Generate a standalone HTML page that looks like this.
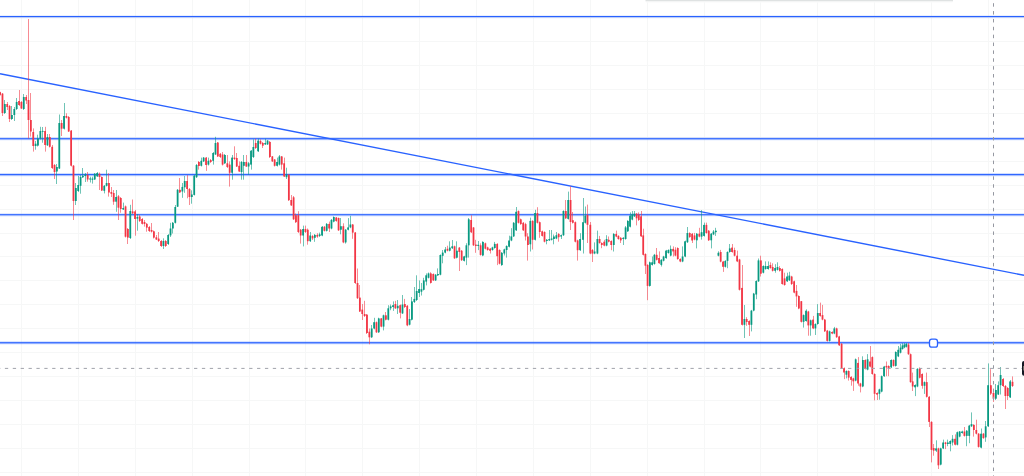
<!DOCTYPE html>
<html><head><meta charset="utf-8"><title>Chart</title>
<style>html,body{margin:0;padding:0;background:#ffffff;overflow:hidden;width:1024px;height:476px;font-family:"Liberation Sans",sans-serif;}svg{display:block;}</style>
</head><body>
<svg width="1024" height="476" viewBox="0 0 1024 476"><rect width="1024" height="476" fill="#fff"/><g fill="#f6f7f7"><rect x="21" y="0" width="1" height="476"/><rect x="78" y="0" width="1" height="476"/><rect x="135" y="0" width="1" height="476"/><rect x="192" y="0" width="1" height="476"/><rect x="249" y="0" width="1" height="476"/><rect x="305" y="0" width="1" height="476"/><rect x="362" y="0" width="1" height="476"/><rect x="419" y="0" width="1" height="476"/><rect x="476" y="0" width="1" height="476"/><rect x="533" y="0" width="1" height="476"/><rect x="590" y="0" width="1" height="476"/><rect x="647" y="0" width="1" height="476"/><rect x="704" y="0" width="1" height="476"/><rect x="760" y="0" width="1" height="476"/><rect x="817" y="0" width="1" height="476"/><rect x="874" y="0" width="1" height="476"/><rect x="931" y="0" width="1" height="476"/><rect x="988" y="0" width="1" height="476"/><rect x="0" y="17" width="1024" height="1"/><rect x="0" y="41" width="1024" height="1"/><rect x="0" y="65" width="1024" height="1"/><rect x="0" y="89" width="1024" height="1"/><rect x="0" y="113" width="1024" height="1"/><rect x="0" y="137" width="1024" height="1"/><rect x="0" y="161" width="1024" height="1"/><rect x="0" y="185" width="1024" height="1"/><rect x="0" y="209" width="1024" height="1"/><rect x="0" y="233" width="1024" height="1"/><rect x="0" y="256" width="1024" height="1"/><rect x="0" y="280" width="1024" height="1"/><rect x="0" y="304" width="1024" height="1"/><rect x="0" y="328" width="1024" height="1"/><rect x="0" y="352" width="1024" height="1"/><rect x="0" y="376" width="1024" height="1"/><rect x="0" y="400" width="1024" height="1"/><rect x="0" y="424" width="1024" height="1"/><rect x="0" y="448" width="1024" height="1"/><rect x="0" y="472" width="1024" height="1"/></g>
<rect x="645.5" y="0" width="307.5" height="1" fill="#dfe2e2"/>
<rect x="645.5" y="1" width="307.5" height="1" fill="#f4f5f5"/>
<rect x="646" y="2" width="306.5" height="0.6" fill="#fafafa"/>
<g fill="#2962ff"><rect x="0" y="15" width="1024" height="1" fill-opacity="0.1"/><rect x="0" y="16" width="1024" height="1" fill-opacity="1.0"/><rect x="0" y="17" width="1024" height="1" fill-opacity="0.28"/><rect x="0" y="18" width="1024" height="1" fill-opacity="0.04"/><rect x="0" y="137" width="1024" height="1" fill-opacity="0.16"/><rect x="0" y="138" width="1024" height="1" fill-opacity="0.88"/><rect x="0" y="139" width="1024" height="1" fill-opacity="0.48"/><rect x="0" y="140" width="1024" height="1" fill-opacity="0.06"/><rect x="0" y="173" width="1024" height="1" fill-opacity="0.22"/><rect x="0" y="174" width="1024" height="1" fill-opacity="0.97"/><rect x="0" y="175" width="1024" height="1" fill-opacity="0.4"/><rect x="0" y="176" width="1024" height="1" fill-opacity="0.06"/><rect x="0" y="213" width="1024" height="1" fill-opacity="0.14"/><rect x="0" y="214" width="1024" height="1" fill-opacity="0.88"/><rect x="0" y="215" width="1024" height="1" fill-opacity="0.45"/><rect x="0" y="216" width="1024" height="1" fill-opacity="0.07"/><rect x="0" y="341" width="1024" height="1" fill-opacity="0.18"/><rect x="0" y="342" width="1024" height="1" fill-opacity="0.88"/><rect x="0" y="343" width="1024" height="1" fill-opacity="0.52"/><rect x="0" y="344" width="1024" height="1" fill-opacity="0.08"/></g>
<line x1="0" y1="73.7" x2="1024" y2="275.3" stroke="#2962ff" stroke-width="1.4"/>
<rect x="0.21" y="91.80" width="0.58" height="3.70" fill="#f23645"/>
<rect x="-0.80" y="92.30" width="1.8" height="2.50" fill="#f23645"/>
<rect x="2.21" y="93.00" width="0.58" height="23.00" fill="#f23645"/>
<rect x="1.57" y="93.60" width="1.8" height="19.40" fill="#f23645"/>
<rect x="4.21" y="100.00" width="0.58" height="14.00" fill="#089981"/>
<rect x="3.93" y="104.00" width="1.8" height="9.00" fill="#089981"/>
<rect x="7.21" y="102.00" width="0.58" height="8.00" fill="#f23645"/>
<rect x="6.30" y="104.00" width="1.8" height="3.00" fill="#f23645"/>
<rect x="9.21" y="105.00" width="0.58" height="17.00" fill="#f23645"/>
<rect x="8.67" y="106.00" width="1.8" height="13.00" fill="#f23645"/>
<rect x="11.21" y="106.00" width="0.58" height="14.00" fill="#089981"/>
<rect x="11.04" y="115.00" width="1.8" height="4.00" fill="#089981"/>
<rect x="14.21" y="107.00" width="0.58" height="14.00" fill="#089981"/>
<rect x="13.40" y="109.00" width="1.8" height="6.00" fill="#089981"/>
<rect x="16.21" y="98.00" width="0.58" height="12.00" fill="#089981"/>
<rect x="15.77" y="102.00" width="1.8" height="7.00" fill="#089981"/>
<rect x="19.21" y="90.00" width="0.58" height="16.00" fill="#f23645"/>
<rect x="18.14" y="101.00" width="1.8" height="4.00" fill="#f23645"/>
<rect x="21.21" y="101.00" width="0.58" height="8.00" fill="#f23645"/>
<rect x="20.50" y="102.00" width="1.8" height="6.50" fill="#f23645"/>
<rect x="23.21" y="94.00" width="0.58" height="16.00" fill="#089981"/>
<rect x="22.87" y="97.00" width="1.8" height="12.00" fill="#089981"/>
<rect x="26.21" y="95.00" width="0.58" height="9.00" fill="#f23645"/>
<rect x="25.24" y="97.00" width="1.8" height="3.50" fill="#f23645"/>
<rect x="28.21" y="19.00" width="0.58" height="119.50" fill="#f23645"/>
<rect x="27.60" y="100.00" width="1.8" height="20.00" fill="#f23645"/>
<rect x="30.21" y="93.00" width="0.58" height="43.60" fill="#f23645"/>
<rect x="29.97" y="120.00" width="1.8" height="11.50" fill="#f23645"/>
<rect x="33.21" y="128.40" width="0.58" height="23.20" fill="#f23645"/>
<rect x="32.34" y="132.00" width="1.8" height="14.00" fill="#f23645"/>
<rect x="35.21" y="141.00" width="0.58" height="8.70" fill="#089981"/>
<rect x="34.71" y="143.70" width="1.8" height="2.30" fill="#089981"/>
<rect x="37.21" y="134.70" width="0.58" height="11.80" fill="#089981"/>
<rect x="37.07" y="138.50" width="1.8" height="7.10" fill="#089981"/>
<rect x="40.21" y="126.80" width="0.58" height="12.70" fill="#089981"/>
<rect x="39.44" y="131.00" width="1.8" height="7.50" fill="#089981"/>
<rect x="42.21" y="127.00" width="0.58" height="15.70" fill="#089981"/>
<rect x="41.81" y="130.90" width="1.8" height="0.90" fill="#089981"/>
<rect x="45.21" y="126.80" width="0.58" height="24.80" fill="#f23645"/>
<rect x="44.17" y="131.00" width="1.8" height="14.00" fill="#f23645"/>
<rect x="47.21" y="134.00" width="0.58" height="12.00" fill="#089981"/>
<rect x="46.54" y="137.00" width="1.8" height="8.30" fill="#089981"/>
<rect x="49.21" y="134.00" width="0.58" height="13.50" fill="#f23645"/>
<rect x="48.91" y="137.00" width="1.8" height="9.80" fill="#f23645"/>
<rect x="52.21" y="145.00" width="0.58" height="24.00" fill="#f23645"/>
<rect x="51.27" y="146.80" width="1.8" height="21.20" fill="#f23645"/>
<rect x="54.21" y="164.00" width="0.58" height="15.00" fill="#f23645"/>
<rect x="53.64" y="165.00" width="1.8" height="7.00" fill="#f23645"/>
<rect x="56.21" y="164.00" width="0.58" height="20.00" fill="#089981"/>
<rect x="56.01" y="167.00" width="1.8" height="4.50" fill="#089981"/>
<rect x="59.21" y="114.50" width="0.58" height="54.50" fill="#089981"/>
<rect x="58.38" y="123.00" width="1.8" height="45.50" fill="#089981"/>
<rect x="61.21" y="120.00" width="0.58" height="16.00" fill="#f23645"/>
<rect x="60.74" y="123.00" width="1.8" height="5.70" fill="#f23645"/>
<rect x="64.21" y="103.00" width="0.58" height="26.50" fill="#089981"/>
<rect x="63.11" y="116.00" width="1.8" height="12.70" fill="#089981"/>
<rect x="66.21" y="113.30" width="0.58" height="5.20" fill="#f23645"/>
<rect x="65.48" y="116.00" width="1.8" height="1.70" fill="#f23645"/>
<rect x="68.21" y="116.00" width="0.58" height="16.00" fill="#f23645"/>
<rect x="67.84" y="117.00" width="1.8" height="14.50" fill="#f23645"/>
<rect x="71.21" y="130.00" width="0.58" height="36.50" fill="#f23645"/>
<rect x="70.21" y="130.60" width="1.8" height="35.10" fill="#f23645"/>
<rect x="73.21" y="165.00" width="0.58" height="55.00" fill="#f23645"/>
<rect x="72.58" y="165.70" width="1.8" height="35.30" fill="#f23645"/>
<rect x="75.21" y="183.00" width="0.58" height="22.00" fill="#089981"/>
<rect x="74.94" y="188.00" width="1.8" height="13.00" fill="#089981"/>
<rect x="78.21" y="176.00" width="0.58" height="16.00" fill="#089981"/>
<rect x="77.31" y="185.00" width="1.8" height="6.00" fill="#089981"/>
<rect x="80.21" y="175.00" width="0.58" height="18.70" fill="#089981"/>
<rect x="79.68" y="177.00" width="1.8" height="8.80" fill="#089981"/>
<rect x="82.21" y="168.00" width="0.58" height="10.00" fill="#089981"/>
<rect x="82.04" y="175.70" width="1.8" height="1.60" fill="#089981"/>
<rect x="85.21" y="173.00" width="0.58" height="9.00" fill="#089981"/>
<rect x="84.41" y="174.50" width="1.8" height="1.50" fill="#089981"/>
<rect x="87.21" y="172.00" width="0.58" height="9.70" fill="#f23645"/>
<rect x="86.78" y="175.00" width="1.8" height="4.50" fill="#f23645"/>
<rect x="90.21" y="176.70" width="0.58" height="5.80" fill="#089981"/>
<rect x="89.15" y="178.50" width="1.8" height="1.00" fill="#089981"/>
<rect x="92.21" y="176.70" width="0.58" height="6.90" fill="#089981"/>
<rect x="91.51" y="178.50" width="1.8" height="1.30" fill="#089981"/>
<rect x="94.21" y="173.00" width="0.58" height="7.00" fill="#089981"/>
<rect x="93.88" y="173.80" width="1.8" height="5.70" fill="#089981"/>
<rect x="97.21" y="172.00" width="0.58" height="5.00" fill="#089981"/>
<rect x="96.25" y="173.00" width="1.8" height="3.30" fill="#089981"/>
<rect x="99.21" y="172.50" width="0.58" height="17.50" fill="#f23645"/>
<rect x="98.61" y="173.80" width="1.8" height="3.20" fill="#f23645"/>
<rect x="101.21" y="176.50" width="0.58" height="14.50" fill="#f23645"/>
<rect x="100.98" y="177.00" width="1.8" height="13.50" fill="#f23645"/>
<rect x="104.21" y="185.00" width="0.58" height="8.40" fill="#089981"/>
<rect x="103.35" y="185.80" width="1.8" height="5.00" fill="#089981"/>
<rect x="106.21" y="169.70" width="0.58" height="16.80" fill="#089981"/>
<rect x="105.71" y="183.00" width="1.8" height="2.80" fill="#089981"/>
<rect x="108.21" y="173.20" width="0.58" height="23.40" fill="#f23645"/>
<rect x="108.08" y="183.00" width="1.8" height="9.50" fill="#f23645"/>
<rect x="111.21" y="187.00" width="0.58" height="10.00" fill="#f23645"/>
<rect x="110.45" y="192.00" width="1.8" height="1.80" fill="#f23645"/>
<rect x="113.21" y="190.00" width="0.58" height="14.80" fill="#f23645"/>
<rect x="112.82" y="193.00" width="1.8" height="8.70" fill="#f23645"/>
<rect x="116.21" y="190.00" width="0.58" height="21.80" fill="#089981"/>
<rect x="115.18" y="197.00" width="1.8" height="4.70" fill="#089981"/>
<rect x="118.21" y="195.00" width="0.58" height="25.00" fill="#f23645"/>
<rect x="117.55" y="196.30" width="1.8" height="11.40" fill="#f23645"/>
<rect x="120.21" y="197.00" width="0.58" height="15.70" fill="#f23645"/>
<rect x="119.92" y="198.00" width="1.8" height="11.00" fill="#f23645"/>
<rect x="123.21" y="202.60" width="0.58" height="7.40" fill="#089981"/>
<rect x="122.28" y="208.00" width="1.8" height="1.50" fill="#089981"/>
<rect x="125.21" y="205.50" width="0.58" height="32.00" fill="#f23645"/>
<rect x="124.65" y="206.40" width="1.8" height="30.30" fill="#f23645"/>
<rect x="127.21" y="228.00" width="0.58" height="16.00" fill="#f23645"/>
<rect x="127.02" y="229.00" width="1.8" height="8.60" fill="#f23645"/>
<rect x="130.21" y="204.80" width="0.58" height="34.20" fill="#089981"/>
<rect x="129.38" y="211.00" width="1.8" height="27.00" fill="#089981"/>
<rect x="132.21" y="199.50" width="0.58" height="14.50" fill="#f23645"/>
<rect x="131.75" y="211.40" width="1.8" height="1.90" fill="#f23645"/>
<rect x="135.21" y="209.90" width="0.58" height="25.80" fill="#f23645"/>
<rect x="134.12" y="211.40" width="1.8" height="7.60" fill="#f23645"/>
<rect x="137.21" y="214.00" width="0.58" height="16.70" fill="#089981"/>
<rect x="136.49" y="217.00" width="1.8" height="1.70" fill="#089981"/>
<rect x="139.21" y="215.00" width="0.58" height="7.00" fill="#f23645"/>
<rect x="138.85" y="216.50" width="1.8" height="4.50" fill="#f23645"/>
<rect x="142.21" y="218.00" width="0.58" height="6.50" fill="#f23645"/>
<rect x="141.22" y="219.00" width="1.8" height="4.80" fill="#f23645"/>
<rect x="144.21" y="220.00" width="0.58" height="6.60" fill="#f23645"/>
<rect x="143.59" y="222.00" width="1.8" height="2.00" fill="#f23645"/>
<rect x="146.21" y="223.00" width="0.58" height="8.70" fill="#f23645"/>
<rect x="145.95" y="223.80" width="1.8" height="3.80" fill="#f23645"/>
<rect x="149.21" y="226.00" width="0.58" height="6.00" fill="#f23645"/>
<rect x="148.32" y="227.00" width="1.8" height="4.00" fill="#f23645"/>
<rect x="151.21" y="223.00" width="0.58" height="9.50" fill="#f23645"/>
<rect x="150.69" y="230.00" width="1.8" height="1.70" fill="#f23645"/>
<rect x="153.21" y="230.50" width="0.58" height="8.00" fill="#f23645"/>
<rect x="153.05" y="231.30" width="1.8" height="6.30" fill="#f23645"/>
<rect x="156.21" y="235.00" width="0.58" height="5.00" fill="#f23645"/>
<rect x="155.42" y="237.30" width="1.8" height="2.20" fill="#f23645"/>
<rect x="158.21" y="232.00" width="0.58" height="10.00" fill="#f23645"/>
<rect x="157.79" y="238.60" width="1.8" height="2.40" fill="#f23645"/>
<rect x="161.21" y="240.00" width="0.58" height="7.00" fill="#f23645"/>
<rect x="160.16" y="241.00" width="1.8" height="5.00" fill="#f23645"/>
<rect x="163.21" y="238.30" width="0.58" height="10.70" fill="#089981"/>
<rect x="162.52" y="241.00" width="1.8" height="5.00" fill="#089981"/>
<rect x="165.21" y="240.00" width="0.58" height="7.00" fill="#f23645"/>
<rect x="164.89" y="241.00" width="1.8" height="5.00" fill="#f23645"/>
<rect x="168.21" y="234.00" width="0.58" height="11.00" fill="#089981"/>
<rect x="167.26" y="235.00" width="1.8" height="9.00" fill="#089981"/>
<rect x="170.21" y="222.80" width="0.58" height="14.20" fill="#089981"/>
<rect x="169.62" y="228.50" width="1.8" height="6.90" fill="#089981"/>
<rect x="172.21" y="222.00" width="0.58" height="11.50" fill="#089981"/>
<rect x="171.99" y="222.80" width="1.8" height="5.70" fill="#089981"/>
<rect x="175.21" y="205.00" width="0.58" height="18.50" fill="#089981"/>
<rect x="174.36" y="207.00" width="1.8" height="15.80" fill="#089981"/>
<rect x="177.21" y="189.00" width="0.58" height="18.00" fill="#089981"/>
<rect x="176.72" y="189.80" width="1.8" height="16.90" fill="#089981"/>
<rect x="179.21" y="178.00" width="0.58" height="15.00" fill="#f23645"/>
<rect x="179.09" y="189.80" width="1.8" height="2.60" fill="#f23645"/>
<rect x="182.21" y="183.00" width="0.58" height="14.80" fill="#089981"/>
<rect x="181.46" y="186.90" width="1.8" height="4.60" fill="#089981"/>
<rect x="184.21" y="176.00" width="0.58" height="16.80" fill="#089981"/>
<rect x="183.83" y="181.00" width="1.8" height="6.30" fill="#089981"/>
<rect x="187.21" y="175.10" width="0.58" height="23.20" fill="#f23645"/>
<rect x="186.19" y="181.00" width="1.8" height="8.00" fill="#f23645"/>
<rect x="189.21" y="188.00" width="0.58" height="17.00" fill="#f23645"/>
<rect x="188.56" y="189.00" width="1.8" height="8.00" fill="#f23645"/>
<rect x="191.21" y="190.30" width="0.58" height="13.40" fill="#089981"/>
<rect x="190.93" y="194.50" width="1.8" height="2.50" fill="#089981"/>
<rect x="194.21" y="175.00" width="0.58" height="20.50" fill="#089981"/>
<rect x="193.29" y="175.60" width="1.8" height="19.30" fill="#089981"/>
<rect x="196.21" y="164.00" width="0.58" height="14.00" fill="#089981"/>
<rect x="195.66" y="165.00" width="1.8" height="12.20" fill="#089981"/>
<rect x="198.21" y="161.00" width="0.58" height="8.60" fill="#f23645"/>
<rect x="198.03" y="162.00" width="1.8" height="4.00" fill="#f23645"/>
<rect x="201.21" y="157.60" width="0.58" height="8.90" fill="#089981"/>
<rect x="200.39" y="160.80" width="1.8" height="5.00" fill="#089981"/>
<rect x="203.21" y="157.00" width="0.58" height="5.00" fill="#089981"/>
<rect x="202.76" y="157.60" width="1.8" height="3.80" fill="#089981"/>
<rect x="206.21" y="157.00" width="0.58" height="13.90" fill="#f23645"/>
<rect x="205.13" y="157.60" width="1.8" height="7.40" fill="#f23645"/>
<rect x="208.21" y="157.60" width="0.58" height="7.90" fill="#089981"/>
<rect x="207.50" y="160.80" width="1.8" height="3.80" fill="#089981"/>
<rect x="210.21" y="159.00" width="0.58" height="4.00" fill="#f23645"/>
<rect x="209.86" y="160.00" width="1.8" height="2.00" fill="#f23645"/>
<rect x="213.21" y="152.00" width="0.58" height="12.60" fill="#089981"/>
<rect x="212.23" y="153.00" width="1.8" height="7.80" fill="#089981"/>
<rect x="215.21" y="136.80" width="0.58" height="18.20" fill="#089981"/>
<rect x="214.60" y="143.00" width="1.8" height="11.50" fill="#089981"/>
<rect x="217.21" y="142.00" width="0.58" height="15.00" fill="#f23645"/>
<rect x="216.96" y="142.50" width="1.8" height="13.90" fill="#f23645"/>
<rect x="220.21" y="153.00" width="0.58" height="5.00" fill="#f23645"/>
<rect x="219.33" y="153.80" width="1.8" height="3.20" fill="#f23645"/>
<rect x="222.21" y="152.00" width="0.58" height="13.50" fill="#f23645"/>
<rect x="221.70" y="154.50" width="1.8" height="10.10" fill="#f23645"/>
<rect x="224.21" y="154.00" width="0.58" height="10.00" fill="#089981"/>
<rect x="224.06" y="155.00" width="1.8" height="8.30" fill="#089981"/>
<rect x="227.21" y="155.00" width="0.58" height="13.00" fill="#f23645"/>
<rect x="226.43" y="163.30" width="1.8" height="3.70" fill="#f23645"/>
<rect x="229.21" y="161.40" width="0.58" height="25.20" fill="#f23645"/>
<rect x="228.80" y="164.60" width="1.8" height="8.20" fill="#f23645"/>
<rect x="232.21" y="155.00" width="0.58" height="24.70" fill="#089981"/>
<rect x="231.17" y="157.60" width="1.8" height="15.20" fill="#089981"/>
<rect x="234.21" y="146.30" width="0.58" height="13.70" fill="#f23645"/>
<rect x="233.53" y="157.60" width="1.8" height="1.40" fill="#f23645"/>
<rect x="236.21" y="153.00" width="0.58" height="14.00" fill="#f23645"/>
<rect x="235.90" y="158.00" width="1.8" height="8.50" fill="#f23645"/>
<rect x="239.21" y="161.40" width="0.58" height="10.60" fill="#f23645"/>
<rect x="238.27" y="165.80" width="1.8" height="5.70" fill="#f23645"/>
<rect x="241.21" y="161.00" width="0.58" height="18.70" fill="#089981"/>
<rect x="240.63" y="162.00" width="1.8" height="10.00" fill="#089981"/>
<rect x="243.21" y="155.00" width="0.58" height="24.70" fill="#089981"/>
<rect x="243.00" y="162.00" width="1.8" height="3.80" fill="#089981"/>
<rect x="246.21" y="155.00" width="0.58" height="12.00" fill="#f23645"/>
<rect x="245.37" y="162.00" width="1.8" height="4.50" fill="#f23645"/>
<rect x="248.21" y="162.00" width="0.58" height="12.70" fill="#089981"/>
<rect x="247.73" y="163.30" width="1.8" height="3.20" fill="#089981"/>
<rect x="251.21" y="150.00" width="0.58" height="19.60" fill="#089981"/>
<rect x="250.10" y="150.70" width="1.8" height="13.90" fill="#089981"/>
<rect x="253.21" y="139.40" width="0.58" height="18.60" fill="#089981"/>
<rect x="252.47" y="147.00" width="1.8" height="10.00" fill="#089981"/>
<rect x="255.21" y="138.70" width="0.58" height="10.30" fill="#f23645"/>
<rect x="254.84" y="143.00" width="1.8" height="5.00" fill="#f23645"/>
<rect x="258.21" y="138.70" width="0.58" height="13.30" fill="#089981"/>
<rect x="257.20" y="140.60" width="1.8" height="10.70" fill="#089981"/>
<rect x="260.21" y="139.40" width="0.58" height="5.10" fill="#f23645"/>
<rect x="259.57" y="141.00" width="1.8" height="2.80" fill="#f23645"/>
<rect x="262.21" y="142.00" width="0.58" height="6.00" fill="#f23645"/>
<rect x="261.94" y="143.00" width="1.8" height="2.70" fill="#f23645"/>
<rect x="265.21" y="138.70" width="0.58" height="6.30" fill="#089981"/>
<rect x="264.30" y="143.00" width="1.8" height="1.40" fill="#089981"/>
<rect x="267.21" y="140.00" width="0.58" height="5.00" fill="#089981"/>
<rect x="266.67" y="140.60" width="1.8" height="3.80" fill="#089981"/>
<rect x="269.21" y="141.00" width="0.58" height="17.00" fill="#f23645"/>
<rect x="269.04" y="141.90" width="1.8" height="15.10" fill="#f23645"/>
<rect x="272.21" y="156.00" width="0.58" height="6.00" fill="#f23645"/>
<rect x="271.41" y="156.40" width="1.8" height="5.00" fill="#f23645"/>
<rect x="274.21" y="159.00" width="0.58" height="7.50" fill="#f23645"/>
<rect x="273.77" y="159.50" width="1.8" height="6.30" fill="#f23645"/>
<rect x="277.21" y="157.60" width="0.58" height="8.90" fill="#089981"/>
<rect x="276.14" y="162.00" width="1.8" height="3.80" fill="#089981"/>
<rect x="279.21" y="155.00" width="0.58" height="10.50" fill="#089981"/>
<rect x="278.51" y="156.40" width="1.8" height="8.20" fill="#089981"/>
<rect x="281.21" y="156.00" width="0.58" height="13.60" fill="#f23645"/>
<rect x="280.87" y="156.40" width="1.8" height="8.20" fill="#f23645"/>
<rect x="284.21" y="157.60" width="0.58" height="19.40" fill="#f23645"/>
<rect x="283.24" y="163.30" width="1.8" height="13.20" fill="#f23645"/>
<rect x="286.21" y="167.70" width="0.58" height="11.30" fill="#089981"/>
<rect x="285.61" y="174.70" width="1.8" height="2.50" fill="#089981"/>
<rect x="288.21" y="174.00" width="0.58" height="27.00" fill="#f23645"/>
<rect x="287.97" y="174.70" width="1.8" height="25.50" fill="#f23645"/>
<rect x="291.21" y="195.00" width="0.58" height="11.00" fill="#f23645"/>
<rect x="290.34" y="200.00" width="1.8" height="5.40" fill="#f23645"/>
<rect x="293.21" y="196.00" width="0.58" height="24.00" fill="#f23645"/>
<rect x="292.71" y="197.30" width="1.8" height="22.00" fill="#f23645"/>
<rect x="295.21" y="213.50" width="0.58" height="9.50" fill="#f23645"/>
<rect x="295.08" y="215.20" width="1.8" height="7.00" fill="#f23645"/>
<rect x="298.21" y="211.20" width="0.58" height="21.80" fill="#f23645"/>
<rect x="297.44" y="215.20" width="1.8" height="16.80" fill="#f23645"/>
<rect x="300.21" y="229.00" width="0.58" height="14.60" fill="#f23645"/>
<rect x="299.81" y="229.70" width="1.8" height="5.80" fill="#f23645"/>
<rect x="303.21" y="225.60" width="0.58" height="20.80" fill="#089981"/>
<rect x="302.18" y="229.00" width="1.8" height="6.50" fill="#089981"/>
<rect x="305.21" y="225.60" width="0.58" height="7.40" fill="#f23645"/>
<rect x="304.54" y="229.00" width="1.8" height="3.00" fill="#f23645"/>
<rect x="307.21" y="228.50" width="0.58" height="16.20" fill="#f23645"/>
<rect x="306.91" y="229.70" width="1.8" height="11.50" fill="#f23645"/>
<rect x="310.21" y="232.00" width="0.58" height="10.00" fill="#089981"/>
<rect x="309.28" y="235.50" width="1.8" height="5.70" fill="#089981"/>
<rect x="312.21" y="234.90" width="0.58" height="5.10" fill="#f23645"/>
<rect x="311.64" y="236.00" width="1.8" height="2.40" fill="#f23645"/>
<rect x="314.21" y="234.00" width="0.58" height="7.80" fill="#089981"/>
<rect x="314.01" y="234.90" width="1.8" height="2.90" fill="#089981"/>
<rect x="317.21" y="233.20" width="0.58" height="4.60" fill="#f23645"/>
<rect x="316.38" y="234.90" width="1.8" height="1.70" fill="#f23645"/>
<rect x="319.21" y="232.60" width="0.58" height="4.40" fill="#089981"/>
<rect x="318.75" y="234.30" width="1.8" height="1.70" fill="#089981"/>
<rect x="322.21" y="226.00" width="0.58" height="10.20" fill="#089981"/>
<rect x="321.11" y="226.80" width="1.8" height="8.70" fill="#089981"/>
<rect x="324.21" y="226.00" width="0.58" height="5.50" fill="#f23645"/>
<rect x="323.48" y="226.80" width="1.8" height="4.00" fill="#f23645"/>
<rect x="326.21" y="223.00" width="0.58" height="8.50" fill="#089981"/>
<rect x="325.85" y="223.90" width="1.8" height="6.90" fill="#089981"/>
<rect x="329.21" y="221.60" width="0.58" height="10.40" fill="#f23645"/>
<rect x="328.21" y="223.90" width="1.8" height="4.60" fill="#f23645"/>
<rect x="331.21" y="219.00" width="0.58" height="10.30" fill="#089981"/>
<rect x="330.58" y="219.90" width="1.8" height="8.60" fill="#089981"/>
<rect x="333.21" y="216.40" width="0.58" height="5.90" fill="#089981"/>
<rect x="332.95" y="217.00" width="1.8" height="4.60" fill="#089981"/>
<rect x="336.21" y="217.00" width="0.58" height="4.80" fill="#f23645"/>
<rect x="335.31" y="217.50" width="1.8" height="3.50" fill="#f23645"/>
<rect x="338.21" y="217.50" width="0.58" height="13.50" fill="#f23645"/>
<rect x="337.68" y="218.00" width="1.8" height="12.30" fill="#f23645"/>
<rect x="340.21" y="218.00" width="0.58" height="16.30" fill="#089981"/>
<rect x="340.05" y="226.20" width="1.8" height="3.50" fill="#089981"/>
<rect x="343.21" y="223.30" width="0.58" height="19.90" fill="#f23645"/>
<rect x="342.42" y="226.20" width="1.8" height="16.20" fill="#f23645"/>
<rect x="345.21" y="229.00" width="0.58" height="14.60" fill="#089981"/>
<rect x="344.78" y="229.70" width="1.8" height="12.70" fill="#089981"/>
<rect x="348.21" y="218.10" width="0.58" height="12.30" fill="#089981"/>
<rect x="347.15" y="227.40" width="1.8" height="2.30" fill="#089981"/>
<rect x="350.21" y="215.80" width="0.58" height="12.40" fill="#089981"/>
<rect x="349.52" y="224.50" width="1.8" height="2.90" fill="#089981"/>
<rect x="352.21" y="224.00" width="0.58" height="14.80" fill="#f23645"/>
<rect x="351.88" y="224.50" width="1.8" height="8.10" fill="#f23645"/>
<rect x="355.21" y="232.00" width="0.58" height="52.00" fill="#f23645"/>
<rect x="354.25" y="232.50" width="1.8" height="50.50" fill="#f23645"/>
<rect x="357.21" y="268.50" width="0.58" height="30.50" fill="#f23645"/>
<rect x="356.62" y="283.00" width="1.8" height="15.20" fill="#f23645"/>
<rect x="359.21" y="285.00" width="0.58" height="27.00" fill="#f23645"/>
<rect x="358.98" y="297.60" width="1.8" height="13.90" fill="#f23645"/>
<rect x="362.21" y="304.00" width="0.58" height="16.00" fill="#f23645"/>
<rect x="361.35" y="309.60" width="1.8" height="4.40" fill="#f23645"/>
<rect x="364.21" y="300.80" width="0.58" height="16.20" fill="#f23645"/>
<rect x="363.72" y="314.00" width="1.8" height="2.00" fill="#f23645"/>
<rect x="366.21" y="314.00" width="0.58" height="20.00" fill="#f23645"/>
<rect x="366.09" y="314.60" width="1.8" height="18.40" fill="#f23645"/>
<rect x="369.21" y="328.50" width="0.58" height="15.80" fill="#f23645"/>
<rect x="368.45" y="331.70" width="1.8" height="5.60" fill="#f23645"/>
<rect x="371.21" y="325.00" width="0.58" height="13.00" fill="#089981"/>
<rect x="370.82" y="328.50" width="1.8" height="8.80" fill="#089981"/>
<rect x="374.21" y="317.80" width="0.58" height="11.50" fill="#089981"/>
<rect x="373.19" y="322.20" width="1.8" height="6.30" fill="#089981"/>
<rect x="376.21" y="321.50" width="0.58" height="11.50" fill="#f23645"/>
<rect x="375.55" y="322.20" width="1.8" height="10.10" fill="#f23645"/>
<rect x="378.21" y="317.70" width="0.58" height="15.30" fill="#089981"/>
<rect x="377.92" y="318.40" width="1.8" height="13.90" fill="#089981"/>
<rect x="381.21" y="318.00" width="0.58" height="9.30" fill="#f23645"/>
<rect x="380.29" y="318.40" width="1.8" height="8.20" fill="#f23645"/>
<rect x="383.21" y="314.60" width="0.58" height="15.80" fill="#089981"/>
<rect x="382.65" y="315.30" width="1.8" height="11.30" fill="#089981"/>
<rect x="385.21" y="312.00" width="0.58" height="8.40" fill="#f23645"/>
<rect x="385.02" y="315.30" width="1.8" height="4.40" fill="#f23645"/>
<rect x="388.21" y="305.20" width="0.58" height="15.20" fill="#089981"/>
<rect x="387.39" y="308.30" width="1.8" height="11.40" fill="#089981"/>
<rect x="390.21" y="304.50" width="0.58" height="5.70" fill="#089981"/>
<rect x="389.76" y="306.40" width="1.8" height="1.90" fill="#089981"/>
<rect x="393.21" y="301.40" width="0.58" height="9.50" fill="#089981"/>
<rect x="392.12" y="305.20" width="1.8" height="1.80" fill="#089981"/>
<rect x="395.21" y="300.80" width="0.58" height="8.20" fill="#f23645"/>
<rect x="394.49" y="304.00" width="1.8" height="4.30" fill="#f23645"/>
<rect x="397.21" y="300.00" width="0.58" height="14.00" fill="#089981"/>
<rect x="396.86" y="305.80" width="1.8" height="2.50" fill="#089981"/>
<rect x="400.21" y="304.50" width="0.58" height="13.90" fill="#f23645"/>
<rect x="399.22" y="305.20" width="1.8" height="7.50" fill="#f23645"/>
<rect x="402.21" y="295.00" width="0.58" height="19.00" fill="#089981"/>
<rect x="401.59" y="304.50" width="1.8" height="8.90" fill="#089981"/>
<rect x="404.21" y="298.90" width="0.58" height="9.10" fill="#f23645"/>
<rect x="403.96" y="304.00" width="1.8" height="3.00" fill="#f23645"/>
<rect x="407.21" y="305.00" width="0.58" height="21.20" fill="#f23645"/>
<rect x="406.32" y="305.80" width="1.8" height="19.60" fill="#f23645"/>
<rect x="409.21" y="309.00" width="0.58" height="16.40" fill="#089981"/>
<rect x="408.69" y="319.00" width="1.8" height="5.70" fill="#089981"/>
<rect x="411.21" y="297.00" width="0.58" height="23.40" fill="#089981"/>
<rect x="411.06" y="301.40" width="1.8" height="18.30" fill="#089981"/>
<rect x="414.21" y="287.00" width="0.58" height="16.00" fill="#089981"/>
<rect x="413.43" y="298.90" width="1.8" height="3.10" fill="#089981"/>
<rect x="416.21" y="275.30" width="0.58" height="25.70" fill="#089981"/>
<rect x="415.79" y="291.00" width="1.8" height="9.00" fill="#089981"/>
<rect x="419.21" y="280.40" width="0.58" height="16.60" fill="#089981"/>
<rect x="418.16" y="289.00" width="1.8" height="4.00" fill="#089981"/>
<rect x="421.21" y="283.00" width="0.58" height="12.50" fill="#089981"/>
<rect x="420.53" y="289.20" width="1.8" height="2.50" fill="#089981"/>
<rect x="423.21" y="277.80" width="0.58" height="12.70" fill="#089981"/>
<rect x="422.89" y="280.40" width="1.8" height="9.40" fill="#089981"/>
<rect x="426.21" y="273.40" width="0.58" height="12.00" fill="#089981"/>
<rect x="425.26" y="275.30" width="1.8" height="6.30" fill="#089981"/>
<rect x="428.21" y="272.50" width="0.58" height="6.00" fill="#089981"/>
<rect x="427.63" y="273.40" width="1.8" height="4.40" fill="#089981"/>
<rect x="430.21" y="272.20" width="0.58" height="11.40" fill="#f23645"/>
<rect x="429.99" y="273.40" width="1.8" height="9.50" fill="#f23645"/>
<rect x="433.21" y="273.40" width="0.58" height="7.60" fill="#f23645"/>
<rect x="432.36" y="274.00" width="1.8" height="6.40" fill="#f23645"/>
<rect x="435.21" y="274.00" width="0.58" height="7.00" fill="#089981"/>
<rect x="434.73" y="274.70" width="1.8" height="5.70" fill="#089981"/>
<rect x="437.21" y="268.40" width="0.58" height="7.60" fill="#089981"/>
<rect x="437.10" y="274.00" width="1.8" height="1.30" fill="#089981"/>
<rect x="440.21" y="254.40" width="0.58" height="20.90" fill="#089981"/>
<rect x="439.46" y="255.00" width="1.8" height="19.70" fill="#089981"/>
<rect x="442.21" y="250.00" width="0.58" height="13.30" fill="#089981"/>
<rect x="441.83" y="252.60" width="1.8" height="3.20" fill="#089981"/>
<rect x="445.21" y="247.00" width="0.58" height="6.30" fill="#089981"/>
<rect x="444.20" y="249.50" width="1.8" height="3.10" fill="#089981"/>
<rect x="447.21" y="245.70" width="0.58" height="5.70" fill="#f23645"/>
<rect x="446.56" y="248.80" width="1.8" height="1.90" fill="#f23645"/>
<rect x="449.21" y="241.30" width="0.58" height="10.10" fill="#089981"/>
<rect x="448.93" y="247.60" width="1.8" height="3.10" fill="#089981"/>
<rect x="452.21" y="240.00" width="0.58" height="9.00" fill="#089981"/>
<rect x="451.30" y="246.30" width="1.8" height="1.90" fill="#089981"/>
<rect x="454.21" y="245.60" width="0.58" height="13.40" fill="#f23645"/>
<rect x="453.66" y="246.30" width="1.8" height="12.00" fill="#f23645"/>
<rect x="456.21" y="241.30" width="0.58" height="17.10" fill="#089981"/>
<rect x="456.03" y="250.70" width="1.8" height="7.00" fill="#089981"/>
<rect x="459.21" y="247.00" width="0.58" height="24.00" fill="#f23645"/>
<rect x="458.40" y="247.60" width="1.8" height="4.40" fill="#f23645"/>
<rect x="461.21" y="250.00" width="0.58" height="11.00" fill="#f23645"/>
<rect x="460.77" y="250.70" width="1.8" height="9.50" fill="#f23645"/>
<rect x="464.21" y="255.80" width="0.58" height="5.70" fill="#089981"/>
<rect x="463.13" y="256.40" width="1.8" height="4.40" fill="#089981"/>
<rect x="466.21" y="243.20" width="0.58" height="21.90" fill="#089981"/>
<rect x="465.50" y="245.30" width="1.8" height="12.30" fill="#089981"/>
<rect x="468.21" y="218.00" width="0.58" height="39.60" fill="#089981"/>
<rect x="467.87" y="219.30" width="1.8" height="26.00" fill="#089981"/>
<rect x="471.21" y="215.20" width="0.58" height="17.80" fill="#f23645"/>
<rect x="470.23" y="220.00" width="1.8" height="12.30" fill="#f23645"/>
<rect x="473.21" y="227.00" width="0.58" height="19.00" fill="#f23645"/>
<rect x="472.60" y="227.50" width="1.8" height="17.80" fill="#f23645"/>
<rect x="475.21" y="239.80" width="0.58" height="13.00" fill="#f23645"/>
<rect x="474.97" y="244.60" width="1.8" height="1.40" fill="#f23645"/>
<rect x="478.21" y="241.00" width="0.58" height="9.10" fill="#089981"/>
<rect x="477.33" y="244.80" width="1.8" height="1.20" fill="#089981"/>
<rect x="480.21" y="243.30" width="0.58" height="12.30" fill="#f23645"/>
<rect x="479.70" y="245.30" width="1.8" height="9.60" fill="#f23645"/>
<rect x="482.21" y="241.30" width="0.58" height="14.90" fill="#089981"/>
<rect x="482.07" y="241.90" width="1.8" height="13.60" fill="#089981"/>
<rect x="485.21" y="242.60" width="0.58" height="6.80" fill="#f23645"/>
<rect x="484.44" y="243.30" width="1.8" height="5.40" fill="#f23645"/>
<rect x="487.21" y="246.70" width="0.58" height="4.00" fill="#f23645"/>
<rect x="486.80" y="247.40" width="1.8" height="2.60" fill="#f23645"/>
<rect x="490.21" y="248.00" width="0.58" height="5.50" fill="#f23645"/>
<rect x="489.17" y="248.70" width="1.8" height="2.10" fill="#f23645"/>
<rect x="492.21" y="246.70" width="0.58" height="4.00" fill="#089981"/>
<rect x="491.54" y="247.40" width="1.8" height="2.60" fill="#089981"/>
<rect x="494.21" y="241.90" width="0.58" height="6.80" fill="#089981"/>
<rect x="493.90" y="243.90" width="1.8" height="4.10" fill="#089981"/>
<rect x="497.21" y="243.20" width="0.58" height="21.90" fill="#f23645"/>
<rect x="496.27" y="243.90" width="1.8" height="12.30" fill="#f23645"/>
<rect x="499.21" y="249.30" width="0.58" height="15.10" fill="#f23645"/>
<rect x="498.64" y="250.00" width="1.8" height="13.70" fill="#f23645"/>
<rect x="501.21" y="252.00" width="0.58" height="13.80" fill="#089981"/>
<rect x="501.00" y="252.80" width="1.8" height="12.30" fill="#089981"/>
<rect x="504.21" y="248.70" width="0.58" height="6.80" fill="#089981"/>
<rect x="503.37" y="249.40" width="1.8" height="4.10" fill="#089981"/>
<rect x="506.21" y="245.30" width="0.58" height="12.30" fill="#089981"/>
<rect x="505.74" y="246.00" width="1.8" height="4.00" fill="#089981"/>
<rect x="509.21" y="235.70" width="0.58" height="11.70" fill="#089981"/>
<rect x="508.11" y="240.50" width="1.8" height="6.20" fill="#089981"/>
<rect x="511.21" y="228.20" width="0.58" height="13.00" fill="#089981"/>
<rect x="510.47" y="236.40" width="1.8" height="4.10" fill="#089981"/>
<rect x="513.21" y="222.00" width="0.58" height="15.00" fill="#089981"/>
<rect x="512.84" y="222.80" width="1.8" height="13.60" fill="#089981"/>
<rect x="516.21" y="207.00" width="0.58" height="24.00" fill="#089981"/>
<rect x="515.21" y="211.80" width="1.8" height="18.50" fill="#089981"/>
<rect x="518.21" y="210.40" width="0.58" height="13.10" fill="#f23645"/>
<rect x="517.57" y="211.10" width="1.8" height="11.70" fill="#f23645"/>
<rect x="520.21" y="218.60" width="0.58" height="6.20" fill="#f23645"/>
<rect x="519.94" y="219.30" width="1.8" height="4.80" fill="#f23645"/>
<rect x="523.21" y="222.00" width="0.58" height="9.00" fill="#f23645"/>
<rect x="522.31" y="222.80" width="1.8" height="7.50" fill="#f23645"/>
<rect x="525.21" y="222.80" width="0.58" height="17.70" fill="#f23645"/>
<rect x="524.67" y="224.10" width="1.8" height="12.40" fill="#f23645"/>
<rect x="527.21" y="233.20" width="0.58" height="27.40" fill="#f23645"/>
<rect x="527.04" y="236.50" width="1.8" height="8.50" fill="#f23645"/>
<rect x="530.21" y="217.60" width="0.58" height="33.90" fill="#089981"/>
<rect x="529.41" y="220.90" width="1.8" height="23.40" fill="#089981"/>
<rect x="532.21" y="220.20" width="0.58" height="29.30" fill="#f23645"/>
<rect x="531.78" y="220.90" width="1.8" height="18.90" fill="#f23645"/>
<rect x="535.21" y="209.80" width="0.58" height="30.70" fill="#089981"/>
<rect x="534.14" y="213.00" width="1.8" height="26.80" fill="#089981"/>
<rect x="537.21" y="207.20" width="0.58" height="16.30" fill="#f23645"/>
<rect x="536.51" y="213.00" width="1.8" height="9.80" fill="#f23645"/>
<rect x="539.21" y="221.50" width="0.58" height="16.30" fill="#f23645"/>
<rect x="538.88" y="222.20" width="1.8" height="9.80" fill="#f23645"/>
<rect x="542.21" y="230.60" width="0.58" height="6.00" fill="#f23645"/>
<rect x="541.24" y="231.30" width="1.8" height="4.60" fill="#f23645"/>
<rect x="544.21" y="231.30" width="0.58" height="11.10" fill="#f23645"/>
<rect x="543.61" y="232.00" width="1.8" height="9.70" fill="#f23645"/>
<rect x="546.21" y="239.00" width="0.58" height="5.30" fill="#089981"/>
<rect x="545.98" y="239.80" width="1.8" height="1.20" fill="#089981"/>
<rect x="549.21" y="230.00" width="0.58" height="11.00" fill="#089981"/>
<rect x="548.34" y="239.00" width="1.8" height="1.40" fill="#089981"/>
<rect x="551.21" y="230.00" width="0.58" height="10.50" fill="#089981"/>
<rect x="550.71" y="238.50" width="1.8" height="1.30" fill="#089981"/>
<rect x="553.21" y="234.50" width="0.58" height="9.80" fill="#089981"/>
<rect x="553.08" y="236.50" width="1.8" height="2.50" fill="#089981"/>
<rect x="556.21" y="232.00" width="0.58" height="7.20" fill="#089981"/>
<rect x="555.45" y="235.20" width="1.8" height="3.30" fill="#089981"/>
<rect x="558.21" y="233.20" width="0.58" height="8.50" fill="#f23645"/>
<rect x="557.81" y="233.90" width="1.8" height="3.30" fill="#f23645"/>
<rect x="561.21" y="234.50" width="0.58" height="4.50" fill="#089981"/>
<rect x="560.18" y="235.20" width="1.8" height="1.30" fill="#089981"/>
<rect x="563.21" y="210.30" width="0.58" height="25.70" fill="#089981"/>
<rect x="562.55" y="211.00" width="1.8" height="24.20" fill="#089981"/>
<rect x="565.21" y="200.00" width="0.58" height="19.00" fill="#f23645"/>
<rect x="564.91" y="211.00" width="1.8" height="7.30" fill="#f23645"/>
<rect x="568.21" y="191.60" width="0.58" height="28.00" fill="#089981"/>
<rect x="567.28" y="200.00" width="1.8" height="18.90" fill="#089981"/>
<rect x="570.21" y="186.30" width="0.58" height="43.70" fill="#f23645"/>
<rect x="569.65" y="200.00" width="1.8" height="22.00" fill="#f23645"/>
<rect x="572.21" y="212.00" width="0.58" height="11.50" fill="#f23645"/>
<rect x="572.01" y="220.20" width="1.8" height="2.60" fill="#f23645"/>
<rect x="575.21" y="221.50" width="0.58" height="20.90" fill="#f23645"/>
<rect x="574.38" y="222.20" width="1.8" height="19.50" fill="#f23645"/>
<rect x="577.21" y="239.70" width="0.58" height="20.90" fill="#f23645"/>
<rect x="576.75" y="240.40" width="1.8" height="9.80" fill="#f23645"/>
<rect x="580.21" y="233.20" width="0.58" height="17.80" fill="#089981"/>
<rect x="579.12" y="239.00" width="1.8" height="11.20" fill="#089981"/>
<rect x="583.21" y="198.00" width="0.58" height="55.50" fill="#089981"/>
<rect x="582.10" y="222.20" width="1.8" height="17.60" fill="#089981"/>
<rect x="585.21" y="206.50" width="0.58" height="17.00" fill="#089981"/>
<rect x="584.40" y="215.60" width="1.8" height="7.20" fill="#089981"/>
<rect x="587.21" y="204.60" width="0.58" height="38.40" fill="#f23645"/>
<rect x="586.60" y="215.00" width="1.8" height="9.80" fill="#f23645"/>
<rect x="590.21" y="222.00" width="0.58" height="32.20" fill="#f23645"/>
<rect x="589.40" y="224.80" width="1.8" height="28.70" fill="#f23645"/>
<rect x="592.21" y="249.00" width="0.58" height="13.00" fill="#f23645"/>
<rect x="591.50" y="250.00" width="1.8" height="3.50" fill="#f23645"/>
<rect x="594.21" y="242.40" width="0.58" height="11.80" fill="#089981"/>
<rect x="593.70" y="251.50" width="1.8" height="2.00" fill="#089981"/>
<rect x="597.21" y="230.60" width="0.58" height="23.60" fill="#089981"/>
<rect x="596.50" y="239.00" width="1.8" height="14.50" fill="#089981"/>
<rect x="599.21" y="235.90" width="0.58" height="7.80" fill="#f23645"/>
<rect x="598.70" y="239.00" width="1.8" height="4.00" fill="#f23645"/>
<rect x="601.21" y="242.30" width="0.58" height="5.90" fill="#f23645"/>
<rect x="600.90" y="243.00" width="1.8" height="2.00" fill="#f23645"/>
<rect x="604.21" y="239.80" width="0.58" height="6.50" fill="#f23645"/>
<rect x="603.30" y="241.70" width="1.8" height="3.90" fill="#f23645"/>
<rect x="606.21" y="235.20" width="0.58" height="11.10" fill="#089981"/>
<rect x="605.70" y="239.00" width="1.8" height="6.60" fill="#089981"/>
<rect x="608.21" y="236.50" width="0.58" height="5.90" fill="#f23645"/>
<rect x="607.90" y="239.80" width="1.8" height="1.90" fill="#f23645"/>
<rect x="611.21" y="240.30" width="0.58" height="9.90" fill="#f23645"/>
<rect x="610.30" y="241.00" width="1.8" height="4.00" fill="#f23645"/>
<rect x="613.21" y="233.20" width="0.58" height="18.30" fill="#089981"/>
<rect x="612.90" y="233.90" width="1.8" height="11.10" fill="#089981"/>
<rect x="616.21" y="230.60" width="0.58" height="6.60" fill="#f23645"/>
<rect x="615.30" y="233.90" width="1.8" height="2.60" fill="#f23645"/>
<rect x="618.21" y="235.20" width="0.58" height="4.50" fill="#f23645"/>
<rect x="617.50" y="235.90" width="1.8" height="3.10" fill="#f23645"/>
<rect x="620.21" y="237.10" width="0.58" height="5.90" fill="#f23645"/>
<rect x="619.90" y="237.80" width="1.8" height="2.60" fill="#f23645"/>
<rect x="623.21" y="237.10" width="0.58" height="7.90" fill="#089981"/>
<rect x="622.30" y="237.80" width="1.8" height="1.20" fill="#089981"/>
<rect x="625.21" y="226.00" width="0.58" height="13.70" fill="#089981"/>
<rect x="624.70" y="227.40" width="1.8" height="11.60" fill="#089981"/>
<rect x="627.21" y="220.20" width="0.58" height="11.80" fill="#089981"/>
<rect x="627.00" y="220.90" width="1.8" height="10.40" fill="#089981"/>
<rect x="630.21" y="212.40" width="0.58" height="15.00" fill="#089981"/>
<rect x="629.10" y="215.60" width="1.8" height="11.10" fill="#089981"/>
<rect x="632.21" y="211.00" width="0.58" height="9.30" fill="#089981"/>
<rect x="631.30" y="214.30" width="1.8" height="5.30" fill="#089981"/>
<rect x="634.21" y="211.00" width="0.58" height="6.00" fill="#089981"/>
<rect x="633.50" y="213.70" width="1.8" height="2.60" fill="#089981"/>
<rect x="636.21" y="213.00" width="0.58" height="12.40" fill="#f23645"/>
<rect x="635.70" y="213.70" width="1.8" height="4.60" fill="#f23645"/>
<rect x="638.21" y="212.40" width="0.58" height="8.60" fill="#f23645"/>
<rect x="637.90" y="214.50" width="1.8" height="5.50" fill="#f23645"/>
<rect x="641.21" y="211.00" width="0.58" height="26.00" fill="#f23645"/>
<rect x="640.10" y="216.30" width="1.8" height="20.00" fill="#f23645"/>
<rect x="643.21" y="228.70" width="0.58" height="26.80" fill="#f23645"/>
<rect x="642.30" y="235.40" width="1.8" height="19.40" fill="#f23645"/>
<rect x="645.21" y="253.30" width="0.58" height="20.70" fill="#f23645"/>
<rect x="644.50" y="254.00" width="1.8" height="11.70" fill="#f23645"/>
<rect x="647.21" y="264.20" width="0.58" height="36.00" fill="#f23645"/>
<rect x="646.70" y="264.90" width="1.8" height="21.00" fill="#f23645"/>
<rect x="649.21" y="261.60" width="0.58" height="25.00" fill="#089981"/>
<rect x="649.00" y="262.30" width="1.8" height="23.60" fill="#089981"/>
<rect x="652.21" y="256.50" width="0.58" height="9.10" fill="#089981"/>
<rect x="651.20" y="262.30" width="1.8" height="2.60" fill="#089981"/>
<rect x="654.21" y="253.90" width="0.58" height="10.80" fill="#089981"/>
<rect x="653.50" y="254.80" width="1.8" height="9.20" fill="#089981"/>
<rect x="656.21" y="248.00" width="0.58" height="12.50" fill="#f23645"/>
<rect x="655.80" y="254.80" width="1.8" height="5.00" fill="#f23645"/>
<rect x="659.21" y="251.40" width="0.58" height="12.50" fill="#f23645"/>
<rect x="658.10" y="258.00" width="1.8" height="5.20" fill="#f23645"/>
<rect x="661.21" y="259.10" width="0.58" height="7.40" fill="#089981"/>
<rect x="660.40" y="259.80" width="1.8" height="5.10" fill="#089981"/>
<rect x="663.21" y="255.80" width="0.58" height="5.60" fill="#089981"/>
<rect x="662.70" y="256.50" width="1.8" height="4.20" fill="#089981"/>
<rect x="666.21" y="249.90" width="0.58" height="8.90" fill="#089981"/>
<rect x="665.10" y="250.60" width="1.8" height="7.50" fill="#089981"/>
<rect x="668.21" y="249.30" width="0.58" height="4.40" fill="#089981"/>
<rect x="667.50" y="250.00" width="1.8" height="3.00" fill="#089981"/>
<rect x="670.21" y="245.50" width="0.58" height="10.80" fill="#089981"/>
<rect x="669.90" y="248.90" width="1.8" height="6.70" fill="#089981"/>
<rect x="673.21" y="246.40" width="0.58" height="10.10" fill="#f23645"/>
<rect x="672.20" y="248.90" width="1.8" height="2.50" fill="#f23645"/>
<rect x="675.21" y="247.20" width="0.58" height="9.10" fill="#f23645"/>
<rect x="674.50" y="249.70" width="1.8" height="5.90" fill="#f23645"/>
<rect x="677.21" y="247.30" width="0.58" height="12.50" fill="#f23645"/>
<rect x="676.90" y="248.00" width="1.8" height="11.00" fill="#f23645"/>
<rect x="680.21" y="258.30" width="0.58" height="3.90" fill="#f23645"/>
<rect x="679.30" y="259.00" width="1.8" height="2.50" fill="#f23645"/>
<rect x="682.21" y="246.40" width="0.58" height="15.80" fill="#089981"/>
<rect x="681.70" y="256.50" width="1.8" height="5.00" fill="#089981"/>
<rect x="685.21" y="240.60" width="0.58" height="16.60" fill="#089981"/>
<rect x="684.10" y="241.30" width="1.8" height="15.20" fill="#089981"/>
<rect x="687.21" y="227.00" width="0.58" height="16.00" fill="#089981"/>
<rect x="686.50" y="233.00" width="1.8" height="9.20" fill="#089981"/>
<rect x="689.21" y="232.30" width="0.58" height="5.50" fill="#f23645"/>
<rect x="688.90" y="233.00" width="1.8" height="4.10" fill="#f23645"/>
<rect x="692.21" y="233.00" width="0.58" height="10.00" fill="#f23645"/>
<rect x="691.20" y="233.80" width="1.8" height="6.70" fill="#f23645"/>
<rect x="694.21" y="232.90" width="0.58" height="7.40" fill="#f23645"/>
<rect x="693.60" y="235.40" width="1.8" height="4.20" fill="#f23645"/>
<rect x="696.21" y="233.00" width="0.58" height="15.40" fill="#089981"/>
<rect x="696.00" y="233.70" width="1.8" height="6.60" fill="#089981"/>
<rect x="699.21" y="227.80" width="0.58" height="9.50" fill="#f23645"/>
<rect x="698.40" y="233.70" width="1.8" height="2.90" fill="#f23645"/>
<rect x="701.21" y="210.10" width="0.58" height="29.50" fill="#089981"/>
<rect x="700.70" y="232.20" width="1.8" height="4.40" fill="#089981"/>
<rect x="704.21" y="222.60" width="0.58" height="14.00" fill="#089981"/>
<rect x="703.10" y="224.90" width="1.8" height="11.00" fill="#089981"/>
<rect x="706.21" y="222.60" width="0.58" height="11.10" fill="#f23645"/>
<rect x="705.50" y="224.90" width="1.8" height="8.10" fill="#f23645"/>
<rect x="708.21" y="230.00" width="0.58" height="11.00" fill="#f23645"/>
<rect x="707.90" y="230.70" width="1.8" height="9.60" fill="#f23645"/>
<rect x="711.21" y="233.00" width="0.58" height="15.40" fill="#089981"/>
<rect x="710.30" y="233.70" width="1.8" height="6.60" fill="#089981"/>
<rect x="713.21" y="230.00" width="0.58" height="5.10" fill="#089981"/>
<rect x="712.60" y="231.50" width="1.8" height="2.90" fill="#089981"/>
<rect x="715.21" y="227.80" width="0.58" height="8.10" fill="#089981"/>
<rect x="715.00" y="230.70" width="1.8" height="1.50" fill="#089981"/>
<rect x="718.21" y="251.30" width="0.58" height="5.10" fill="#089981"/>
<rect x="717.50" y="252.80" width="1.8" height="2.90" fill="#089981"/>
<rect x="720.21" y="249.90" width="0.58" height="12.40" fill="#f23645"/>
<rect x="719.80" y="252.00" width="1.8" height="9.60" fill="#f23645"/>
<rect x="723.21" y="260.90" width="0.58" height="11.00" fill="#f23645"/>
<rect x="722.10" y="261.60" width="1.8" height="5.20" fill="#f23645"/>
<rect x="725.21" y="260.20" width="0.58" height="7.30" fill="#089981"/>
<rect x="724.40" y="260.90" width="1.8" height="5.90" fill="#089981"/>
<rect x="727.21" y="251.30" width="0.58" height="16.90" fill="#089981"/>
<rect x="726.60" y="252.00" width="1.8" height="8.90" fill="#089981"/>
<rect x="729.21" y="244.00" width="0.58" height="8.70" fill="#089981"/>
<rect x="728.90" y="248.40" width="1.8" height="3.60" fill="#089981"/>
<rect x="732.21" y="244.00" width="0.58" height="8.70" fill="#f23645"/>
<rect x="731.10" y="247.60" width="1.8" height="4.40" fill="#f23645"/>
<rect x="734.21" y="247.70" width="0.58" height="8.70" fill="#f23645"/>
<rect x="733.70" y="250.00" width="1.8" height="5.70" fill="#f23645"/>
<rect x="737.21" y="250.60" width="0.58" height="11.50" fill="#f23645"/>
<rect x="736.20" y="255.70" width="1.8" height="5.70" fill="#f23645"/>
<rect x="739.21" y="258.80" width="0.58" height="31.70" fill="#f23645"/>
<rect x="738.60" y="259.50" width="1.8" height="30.30" fill="#f23645"/>
<rect x="742.21" y="265.00" width="0.58" height="60.50" fill="#f23645"/>
<rect x="741.10" y="287.90" width="1.8" height="36.90" fill="#f23645"/>
<rect x="744.21" y="305.00" width="0.58" height="33.00" fill="#089981"/>
<rect x="743.50" y="319.00" width="1.8" height="5.80" fill="#089981"/>
<rect x="746.21" y="317.20" width="0.58" height="8.60" fill="#f23645"/>
<rect x="745.80" y="319.00" width="1.8" height="3.00" fill="#f23645"/>
<rect x="749.21" y="320.30" width="0.58" height="15.70" fill="#f23645"/>
<rect x="748.20" y="321.00" width="1.8" height="3.80" fill="#f23645"/>
<rect x="751.21" y="309.90" width="0.58" height="21.50" fill="#089981"/>
<rect x="750.50" y="310.60" width="1.8" height="14.20" fill="#089981"/>
<rect x="753.21" y="292.90" width="0.58" height="18.40" fill="#089981"/>
<rect x="752.90" y="293.60" width="1.8" height="17.00" fill="#089981"/>
<rect x="756.21" y="280.30" width="0.58" height="18.90" fill="#089981"/>
<rect x="755.30" y="281.00" width="1.8" height="13.50" fill="#089981"/>
<rect x="758.21" y="258.50" width="0.58" height="23.50" fill="#089981"/>
<rect x="757.60" y="260.40" width="1.8" height="20.90" fill="#089981"/>
<rect x="760.21" y="255.70" width="0.58" height="20.80" fill="#f23645"/>
<rect x="760.00" y="260.40" width="1.8" height="13.30" fill="#f23645"/>
<rect x="763.21" y="265.30" width="0.58" height="8.10" fill="#089981"/>
<rect x="762.40" y="266.00" width="1.8" height="6.70" fill="#089981"/>
<rect x="765.21" y="261.40" width="0.58" height="8.30" fill="#089981"/>
<rect x="764.70" y="266.00" width="1.8" height="3.00" fill="#089981"/>
<rect x="768.21" y="261.40" width="0.58" height="8.30" fill="#089981"/>
<rect x="767.10" y="266.00" width="1.8" height="3.00" fill="#089981"/>
<rect x="770.21" y="262.30" width="0.58" height="6.40" fill="#f23645"/>
<rect x="769.50" y="265.00" width="1.8" height="3.00" fill="#f23645"/>
<rect x="772.21" y="263.30" width="0.58" height="8.20" fill="#f23645"/>
<rect x="771.80" y="267.00" width="1.8" height="3.80" fill="#f23645"/>
<rect x="775.21" y="264.20" width="0.58" height="8.50" fill="#089981"/>
<rect x="774.20" y="268.00" width="1.8" height="2.80" fill="#089981"/>
<rect x="777.21" y="262.30" width="0.58" height="8.30" fill="#089981"/>
<rect x="776.60" y="267.00" width="1.8" height="2.90" fill="#089981"/>
<rect x="779.21" y="266.10" width="0.58" height="5.40" fill="#f23645"/>
<rect x="779.00" y="268.00" width="1.8" height="2.80" fill="#f23645"/>
<rect x="782.21" y="268.30" width="0.58" height="16.40" fill="#f23645"/>
<rect x="781.30" y="269.00" width="1.8" height="15.00" fill="#f23645"/>
<rect x="784.21" y="272.70" width="0.58" height="13.00" fill="#f23645"/>
<rect x="783.70" y="278.40" width="1.8" height="6.60" fill="#f23645"/>
<rect x="787.21" y="272.70" width="0.58" height="9.30" fill="#089981"/>
<rect x="786.10" y="276.50" width="1.8" height="4.80" fill="#089981"/>
<rect x="789.21" y="271.80" width="0.58" height="9.20" fill="#089981"/>
<rect x="788.40" y="275.60" width="1.8" height="4.70" fill="#089981"/>
<rect x="791.21" y="275.80" width="0.58" height="9.20" fill="#f23645"/>
<rect x="790.80" y="276.50" width="1.8" height="7.50" fill="#f23645"/>
<rect x="794.21" y="280.60" width="0.58" height="12.70" fill="#f23645"/>
<rect x="793.20" y="281.30" width="1.8" height="11.30" fill="#f23645"/>
<rect x="796.21" y="285.00" width="0.58" height="21.80" fill="#f23645"/>
<rect x="795.60" y="290.90" width="1.8" height="5.50" fill="#f23645"/>
<rect x="798.21" y="295.30" width="0.58" height="13.90" fill="#f23645"/>
<rect x="798.00" y="296.00" width="1.8" height="12.50" fill="#f23645"/>
<rect x="801.21" y="301.00" width="0.58" height="21.50" fill="#f23645"/>
<rect x="800.40" y="301.20" width="1.8" height="20.60" fill="#f23645"/>
<rect x="803.21" y="314.40" width="0.58" height="13.20" fill="#089981"/>
<rect x="802.70" y="315.10" width="1.8" height="6.70" fill="#089981"/>
<rect x="806.21" y="309.30" width="0.58" height="12.40" fill="#089981"/>
<rect x="805.10" y="310.70" width="1.8" height="10.30" fill="#089981"/>
<rect x="808.21" y="310.80" width="0.58" height="24.90" fill="#f23645"/>
<rect x="807.40" y="311.50" width="1.8" height="13.90" fill="#f23645"/>
<rect x="810.21" y="319.60" width="0.58" height="16.10" fill="#089981"/>
<rect x="809.80" y="320.30" width="1.8" height="5.10" fill="#089981"/>
<rect x="813.21" y="315.90" width="0.58" height="13.20" fill="#f23645"/>
<rect x="812.10" y="319.60" width="1.8" height="8.80" fill="#f23645"/>
<rect x="815.21" y="323.30" width="0.58" height="11.70" fill="#089981"/>
<rect x="814.50" y="324.00" width="1.8" height="4.40" fill="#089981"/>
<rect x="817.21" y="304.10" width="0.58" height="20.60" fill="#089981"/>
<rect x="816.90" y="313.00" width="1.8" height="11.00" fill="#089981"/>
<rect x="820.21" y="302.60" width="0.58" height="14.00" fill="#f23645"/>
<rect x="819.20" y="313.00" width="1.8" height="2.90" fill="#f23645"/>
<rect x="822.21" y="304.90" width="0.58" height="15.40" fill="#f23645"/>
<rect x="821.60" y="315.10" width="1.8" height="4.50" fill="#f23645"/>
<rect x="824.21" y="318.90" width="0.58" height="13.10" fill="#f23645"/>
<rect x="824.00" y="319.60" width="1.8" height="11.70" fill="#f23645"/>
<rect x="827.21" y="329.90" width="0.58" height="11.70" fill="#f23645"/>
<rect x="826.30" y="330.60" width="1.8" height="10.30" fill="#f23645"/>
<rect x="829.21" y="330.60" width="0.58" height="11.00" fill="#089981"/>
<rect x="828.70" y="331.30" width="1.8" height="9.60" fill="#089981"/>
<rect x="832.21" y="331.30" width="0.58" height="2.90" fill="#f23645"/>
<rect x="831.10" y="332.00" width="1.8" height="1.50" fill="#f23645"/>
<rect x="834.21" y="326.90" width="0.58" height="7.30" fill="#089981"/>
<rect x="833.40" y="328.40" width="1.8" height="5.10" fill="#089981"/>
<rect x="836.21" y="327.70" width="0.58" height="10.20" fill="#f23645"/>
<rect x="835.80" y="328.40" width="1.8" height="8.80" fill="#f23645"/>
<rect x="839.21" y="335.80" width="0.58" height="10.20" fill="#f23645"/>
<rect x="838.20" y="336.50" width="1.8" height="8.80" fill="#f23645"/>
<rect x="841.21" y="343.00" width="0.58" height="25.80" fill="#f23645"/>
<rect x="840.70" y="343.80" width="1.8" height="24.30" fill="#f23645"/>
<rect x="844.21" y="367.40" width="0.58" height="11.70" fill="#f23645"/>
<rect x="843.10" y="368.10" width="1.8" height="4.40" fill="#f23645"/>
<rect x="846.21" y="370.30" width="0.58" height="8.10" fill="#089981"/>
<rect x="845.50" y="371.00" width="1.8" height="3.70" fill="#089981"/>
<rect x="848.21" y="370.30" width="0.58" height="10.30" fill="#f23645"/>
<rect x="847.80" y="371.00" width="1.8" height="6.60" fill="#f23645"/>
<rect x="851.21" y="376.20" width="0.58" height="9.50" fill="#f23645"/>
<rect x="850.10" y="376.90" width="1.8" height="3.00" fill="#f23645"/>
<rect x="853.21" y="377.70" width="0.58" height="13.20" fill="#f23645"/>
<rect x="852.40" y="378.40" width="1.8" height="2.90" fill="#f23645"/>
<rect x="855.21" y="358.50" width="0.58" height="22.80" fill="#089981"/>
<rect x="854.80" y="359.30" width="1.8" height="21.30" fill="#089981"/>
<rect x="858.21" y="357.10" width="0.58" height="28.60" fill="#f23645"/>
<rect x="857.10" y="362.90" width="1.8" height="20.60" fill="#f23645"/>
<rect x="860.21" y="382.80" width="0.58" height="9.60" fill="#f23645"/>
<rect x="859.50" y="383.50" width="1.8" height="3.00" fill="#f23645"/>
<rect x="862.21" y="356.30" width="0.58" height="30.90" fill="#089981"/>
<rect x="862.00" y="360.00" width="1.8" height="26.50" fill="#089981"/>
<rect x="865.21" y="359.30" width="0.58" height="10.20" fill="#f23645"/>
<rect x="864.30" y="360.00" width="1.8" height="8.80" fill="#f23645"/>
<rect x="867.21" y="354.10" width="0.58" height="16.20" fill="#089981"/>
<rect x="866.70" y="359.30" width="1.8" height="10.30" fill="#089981"/>
<rect x="870.21" y="346.00" width="0.58" height="21.30" fill="#f23645"/>
<rect x="869.10" y="361.50" width="1.8" height="5.10" fill="#f23645"/>
<rect x="872.21" y="356.40" width="0.58" height="18.30" fill="#f23645"/>
<rect x="871.40" y="357.10" width="1.8" height="16.90" fill="#f23645"/>
<rect x="874.21" y="373.30" width="0.58" height="27.10" fill="#f23645"/>
<rect x="873.70" y="374.00" width="1.8" height="19.80" fill="#f23645"/>
<rect x="877.21" y="392.30" width="0.58" height="7.70" fill="#f23645"/>
<rect x="876.10" y="393.00" width="1.8" height="1.60" fill="#f23645"/>
<rect x="879.21" y="388.70" width="0.58" height="11.00" fill="#089981"/>
<rect x="878.50" y="389.40" width="1.8" height="4.40" fill="#089981"/>
<rect x="881.21" y="375.50" width="0.58" height="16.80" fill="#089981"/>
<rect x="880.80" y="376.20" width="1.8" height="15.40" fill="#089981"/>
<rect x="884.21" y="365.90" width="0.58" height="11.00" fill="#089981"/>
<rect x="883.10" y="366.60" width="1.8" height="9.60" fill="#089981"/>
<rect x="886.21" y="361.50" width="0.58" height="14.70" fill="#f23645"/>
<rect x="885.50" y="365.90" width="1.8" height="1.50" fill="#f23645"/>
<rect x="888.21" y="365.30" width="0.58" height="10.90" fill="#f23645"/>
<rect x="887.80" y="366.00" width="1.8" height="2.00" fill="#f23645"/>
<rect x="891.21" y="359.30" width="0.58" height="8.80" fill="#089981"/>
<rect x="890.20" y="360.00" width="1.8" height="7.40" fill="#089981"/>
<rect x="893.21" y="359.30" width="0.58" height="7.30" fill="#f23645"/>
<rect x="892.60" y="360.00" width="1.8" height="5.90" fill="#f23645"/>
<rect x="895.21" y="351.30" width="0.58" height="15.30" fill="#089981"/>
<rect x="894.90" y="352.00" width="1.8" height="13.90" fill="#089981"/>
<rect x="898.21" y="346.00" width="0.58" height="11.10" fill="#089981"/>
<rect x="897.30" y="349.80" width="1.8" height="6.60" fill="#089981"/>
<rect x="900.21" y="343.90" width="0.58" height="9.50" fill="#089981"/>
<rect x="899.60" y="347.60" width="1.8" height="5.10" fill="#089981"/>
<rect x="902.21" y="343.10" width="0.58" height="6.60" fill="#089981"/>
<rect x="901.60" y="345.40" width="1.8" height="3.60" fill="#089981"/>
<rect x="904.21" y="343.00" width="0.58" height="5.20" fill="#089981"/>
<rect x="903.50" y="344.50" width="1.8" height="3.00" fill="#089981"/>
<rect x="906.21" y="343.00" width="0.58" height="4.50" fill="#089981"/>
<rect x="905.40" y="343.90" width="1.8" height="2.90" fill="#089981"/>
<rect x="908.21" y="343.00" width="0.58" height="11.90" fill="#f23645"/>
<rect x="907.60" y="344.60" width="1.8" height="9.60" fill="#f23645"/>
<rect x="910.21" y="353.50" width="0.58" height="29.30" fill="#f23645"/>
<rect x="909.70" y="354.20" width="1.8" height="27.90" fill="#f23645"/>
<rect x="912.21" y="372.60" width="0.58" height="18.40" fill="#f23645"/>
<rect x="911.80" y="381.40" width="1.8" height="5.10" fill="#f23645"/>
<rect x="915.21" y="384.30" width="0.58" height="11.80" fill="#089981"/>
<rect x="914.10" y="385.00" width="1.8" height="2.30" fill="#089981"/>
<rect x="917.21" y="368.10" width="0.58" height="19.10" fill="#089981"/>
<rect x="916.50" y="368.90" width="1.8" height="17.60" fill="#089981"/>
<rect x="919.21" y="367.40" width="0.58" height="11.00" fill="#f23645"/>
<rect x="918.90" y="368.10" width="1.8" height="9.60" fill="#f23645"/>
<rect x="922.21" y="373.30" width="0.58" height="15.40" fill="#f23645"/>
<rect x="921.20" y="374.00" width="1.8" height="11.80" fill="#f23645"/>
<rect x="924.21" y="381.40" width="0.58" height="12.50" fill="#089981"/>
<rect x="923.60" y="382.10" width="1.8" height="3.70" fill="#089981"/>
<rect x="926.21" y="372.60" width="0.58" height="24.90" fill="#f23645"/>
<rect x="925.90" y="382.10" width="1.8" height="14.70" fill="#f23645"/>
<rect x="929.21" y="396.10" width="0.58" height="30.90" fill="#f23645"/>
<rect x="928.20" y="396.80" width="1.8" height="25.10" fill="#f23645"/>
<rect x="931.21" y="421.20" width="0.58" height="41.20" fill="#f23645"/>
<rect x="930.60" y="421.90" width="1.8" height="28.00" fill="#f23645"/>
<rect x="933.21" y="444.00" width="0.58" height="11.70" fill="#f23645"/>
<rect x="932.80" y="448.00" width="1.8" height="2.60" fill="#f23645"/>
<rect x="936.21" y="440.30" width="0.58" height="11.70" fill="#089981"/>
<rect x="935.10" y="448.40" width="1.8" height="2.20" fill="#089981"/>
<rect x="938.21" y="447.70" width="0.58" height="21.30" fill="#f23645"/>
<rect x="937.50" y="448.40" width="1.8" height="16.90" fill="#f23645"/>
<rect x="940.21" y="447.70" width="0.58" height="17.60" fill="#089981"/>
<rect x="939.90" y="448.40" width="1.8" height="16.20" fill="#089981"/>
<rect x="943.21" y="439.60" width="0.58" height="9.50" fill="#089981"/>
<rect x="942.20" y="442.50" width="1.8" height="5.90" fill="#089981"/>
<rect x="945.21" y="441.80" width="0.58" height="7.30" fill="#f23645"/>
<rect x="944.60" y="442.50" width="1.8" height="1.50" fill="#f23645"/>
<rect x="947.21" y="439.60" width="0.58" height="6.60" fill="#089981"/>
<rect x="947.00" y="442.50" width="1.8" height="1.50" fill="#089981"/>
<rect x="950.21" y="440.30" width="0.58" height="11.00" fill="#089981"/>
<rect x="949.30" y="441.00" width="1.8" height="3.00" fill="#089981"/>
<rect x="952.21" y="435.10" width="0.58" height="10.40" fill="#089981"/>
<rect x="951.70" y="438.80" width="1.8" height="3.70" fill="#089981"/>
<rect x="955.21" y="434.40" width="0.58" height="11.00" fill="#f23645"/>
<rect x="954.10" y="438.80" width="1.8" height="5.90" fill="#f23645"/>
<rect x="957.21" y="431.50" width="0.58" height="13.90" fill="#089981"/>
<rect x="956.40" y="432.20" width="1.8" height="12.50" fill="#089981"/>
<rect x="959.21" y="431.00" width="0.58" height="6.30" fill="#089981"/>
<rect x="958.80" y="431.50" width="1.8" height="5.10" fill="#089981"/>
<rect x="962.21" y="430.70" width="0.58" height="3.00" fill="#089981"/>
<rect x="961.10" y="431.50" width="1.8" height="1.50" fill="#089981"/>
<rect x="964.21" y="427.00" width="0.58" height="9.60" fill="#f23645"/>
<rect x="963.50" y="431.50" width="1.8" height="4.40" fill="#f23645"/>
<rect x="966.21" y="430.00" width="0.58" height="16.20" fill="#089981"/>
<rect x="965.90" y="430.70" width="1.8" height="5.20" fill="#089981"/>
<rect x="969.21" y="424.90" width="0.58" height="18.30" fill="#089981"/>
<rect x="968.30" y="425.60" width="1.8" height="10.30" fill="#089981"/>
<rect x="971.21" y="412.40" width="0.58" height="14.60" fill="#089981"/>
<rect x="970.60" y="424.10" width="1.8" height="2.20" fill="#089981"/>
<rect x="973.21" y="424.20" width="0.58" height="12.40" fill="#f23645"/>
<rect x="973.00" y="424.90" width="1.8" height="5.10" fill="#f23645"/>
<rect x="976.21" y="419.70" width="0.58" height="14.70" fill="#f23645"/>
<rect x="975.40" y="430.00" width="1.8" height="3.70" fill="#f23645"/>
<rect x="978.21" y="433.00" width="0.58" height="14.60" fill="#f23645"/>
<rect x="977.70" y="433.70" width="1.8" height="13.20" fill="#f23645"/>
<rect x="981.21" y="428.50" width="0.58" height="19.80" fill="#089981"/>
<rect x="980.10" y="433.70" width="1.8" height="13.90" fill="#089981"/>
<rect x="983.21" y="433.00" width="0.58" height="5.80" fill="#f23645"/>
<rect x="982.50" y="433.70" width="1.8" height="4.40" fill="#f23645"/>
<rect x="985.21" y="421.00" width="0.58" height="20.80" fill="#089981"/>
<rect x="984.80" y="426.30" width="1.8" height="11.10" fill="#089981"/>
<rect x="988.21" y="363.40" width="0.58" height="63.60" fill="#089981"/>
<rect x="987.20" y="385.20" width="1.8" height="41.10" fill="#089981"/>
<rect x="990.21" y="369.20" width="0.58" height="25.80" fill="#f23645"/>
<rect x="990.00" y="385.20" width="1.8" height="8.40" fill="#f23645"/>
<rect x="993.21" y="388.60" width="0.58" height="13.40" fill="#f23645"/>
<rect x="992.60" y="393.00" width="1.8" height="5.70" fill="#f23645"/>
<rect x="995.21" y="384.00" width="0.58" height="16.00" fill="#089981"/>
<rect x="995.00" y="390.00" width="1.8" height="8.70" fill="#089981"/>
<rect x="998.21" y="381.40" width="0.58" height="13.60" fill="#089981"/>
<rect x="997.30" y="385.20" width="1.8" height="9.30" fill="#089981"/>
<rect x="1000.21" y="367.00" width="0.58" height="27.50" fill="#089981"/>
<rect x="999.70" y="375.00" width="1.8" height="10.20" fill="#089981"/>
<rect x="1003.21" y="378.00" width="0.58" height="9.00" fill="#f23645"/>
<rect x="1002.10" y="379.00" width="1.8" height="7.00" fill="#f23645"/>
<rect x="1005.21" y="385.00" width="0.58" height="24.00" fill="#f23645"/>
<rect x="1004.50" y="386.00" width="1.8" height="10.00" fill="#f23645"/>
<rect x="1007.21" y="387.00" width="0.58" height="13.00" fill="#f23645"/>
<rect x="1006.90" y="388.00" width="1.8" height="8.00" fill="#f23645"/>
<rect x="1010.21" y="380.00" width="0.58" height="18.00" fill="#089981"/>
<rect x="1009.20" y="381.40" width="1.8" height="16.00" fill="#089981"/>
<rect x="1012.21" y="376.40" width="0.58" height="10.60" fill="#f23645"/>
<rect x="1011.60" y="381.80" width="1.8" height="4.20" fill="#f23645"/>
<line x1="993.5" y1="-4.67" x2="993.5" y2="476" stroke="#9598a1" stroke-width="1" stroke-dasharray="3.5 4.37"/>
<line x1="-2.98" y1="368.4" x2="1022" y2="368.4" stroke="#a0a3ab" stroke-width="1" stroke-dasharray="3.3 4.58"/>
<rect x="929.5" y="339.2" width="8" height="8" rx="2.3" fill="#ffffff" stroke="#2962ff" stroke-width="1.3"/>
<rect x="1022" y="361" width="12" height="14.7" rx="2" fill="#131722"/>
<rect x="1023" y="366" width="1" height="4.5" fill="#6e6a62"/></svg>
</body></html>
